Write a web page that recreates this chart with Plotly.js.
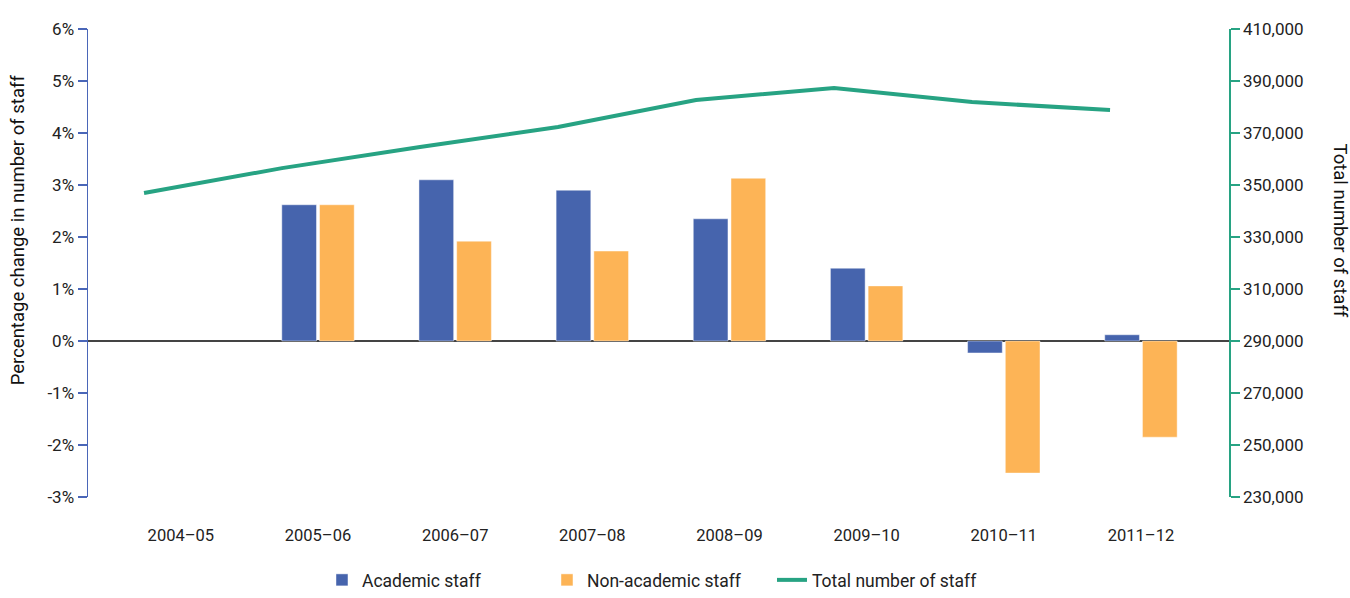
<!DOCTYPE html>
<html>
<head>
<meta charset="utf-8">
<script src="https://cdn.plot.ly/plotly-3.0.1.min.js"></script>
<style>html,body{margin:0;padding:0;background:#fff;}#chart{width:1350px;height:598px;}</style>
</head>
<body>
<div id="chart"></div>
<script>
const years = ['2004–05','2005–06','2006–07','2007–08','2008–09','2009–10','2010–11','2011–12'];
const academic = [null, 2.62, 3.10, 2.90, 2.35, 1.40, -0.23, 0.12];
const nonAcademic = [null, 2.62, 1.92, 1.73, 3.13, 1.06, -2.54, -1.85];
const totalStaff = [346900, 356500, 364600, 372300, 382700, 387300, 381900, 378800];
const leftTickVals = [-3, -2, -1, 0, 1, 2, 3, 4, 5, 6];
const leftTickText = ['-3%', '-2%', '-1%', '0%', '1%', '2%', '3%', '4%', '5%', '6%'];
const rightTickVals = [230000, 250000, 270000, 290000, 310000, 330000, 350000, 370000, 390000, 410000];

const FONT = 'Roboto, "DejaVu Sans", sans-serif';
const traces = [
  {type:'bar', name:'Academic staff', x:years, y:academic, marker:{color:'#4664ad', line:{color:'rgba(255,255,255,0.45)', width:1}}, xaxis:'x', yaxis:'y'},
  {type:'bar', name:'Non-academic staff', x:years, y:nonAcademic, marker:{color:'#fdb456', line:{color:'rgba(255,255,255,0.45)', width:1}}, xaxis:'x', yaxis:'y'},
  {type:'scatter', mode:'lines', name:'Total number of staff', x:years, y:totalStaff, line:{color:'#27a383', width:4}, xaxis:'x2', yaxis:'y2'}
];
const layout = {
  width:1350, height:598,
  margin:{l:88, r:121, t:29, b:101, autoexpand:false},
  paper_bgcolor:'#fff', plot_bgcolor:'#fff',
  font:{family:FONT, size:16, color:'#222'},
  barmode:'group', bargap:0.45, bargroupgap:0.08,
  showlegend:true,
  legend:{orientation:'h', xref:'container', yref:'container', x:0.2385, xanchor:'left', y:-0.011, yanchor:'bottom', font:{size:17.5, color:'#222'}, traceorder:'normal', itemwidth:30, entrywidth:180, entrywidthmode:'pixels'},
  xaxis:{type:'category', range:[-0.677, 7.642], showline:false, showgrid:false, zeroline:false, ticks:'', ticklabelstandoff:26, tickfont:{size:16.5, color:'#222'}, automargin:false},
  xaxis2:{type:'category', overlaying:'x', range:[-0.406, 7.862], visible:false},
  yaxis:{range:[-3, 6], tickvals:leftTickVals, ticktext:leftTickText, showline:true, linecolor:'#4a66b8', linewidth:1.5, ticks:'outside', ticklen:9, tickcolor:'#4a66b8', tickwidth:1.5, showgrid:false, zeroline:true, zerolinecolor:'#444', zerolinewidth:2, tickfont:{size:17, color:'#222'}, automargin:false},
  yaxis2:{overlaying:'y', side:'right', range:[230000, 410000], tickvals:rightTickVals, tickformat:',d', showline:true, linecolor:'#27a383', linewidth:1.5, ticks:'outside', ticklen:9, tickcolor:'#27a383', tickwidth:1.5, showgrid:false, zeroline:false, tickfont:{size:17, color:'#222'}, automargin:false},
  annotations:[
    {text:'Percentage change in number of staff', xref:'paper', yref:'paper', x:-0.0613, y:0.57, xanchor:'center', yanchor:'middle', textangle:-90, showarrow:false, font:{size:18.5, color:'#111'}},
    {text:'Total number of staff', xref:'paper', yref:'paper', x:1.097, y:0.57, xanchor:'center', yanchor:'middle', textangle:90, showarrow:false, font:{size:18.5, color:'#111'}}
  ]
};
Plotly.newPlot('chart', traces, layout, {displayModeBar:false, staticPlot:true});
</script>
</body>
</html>
